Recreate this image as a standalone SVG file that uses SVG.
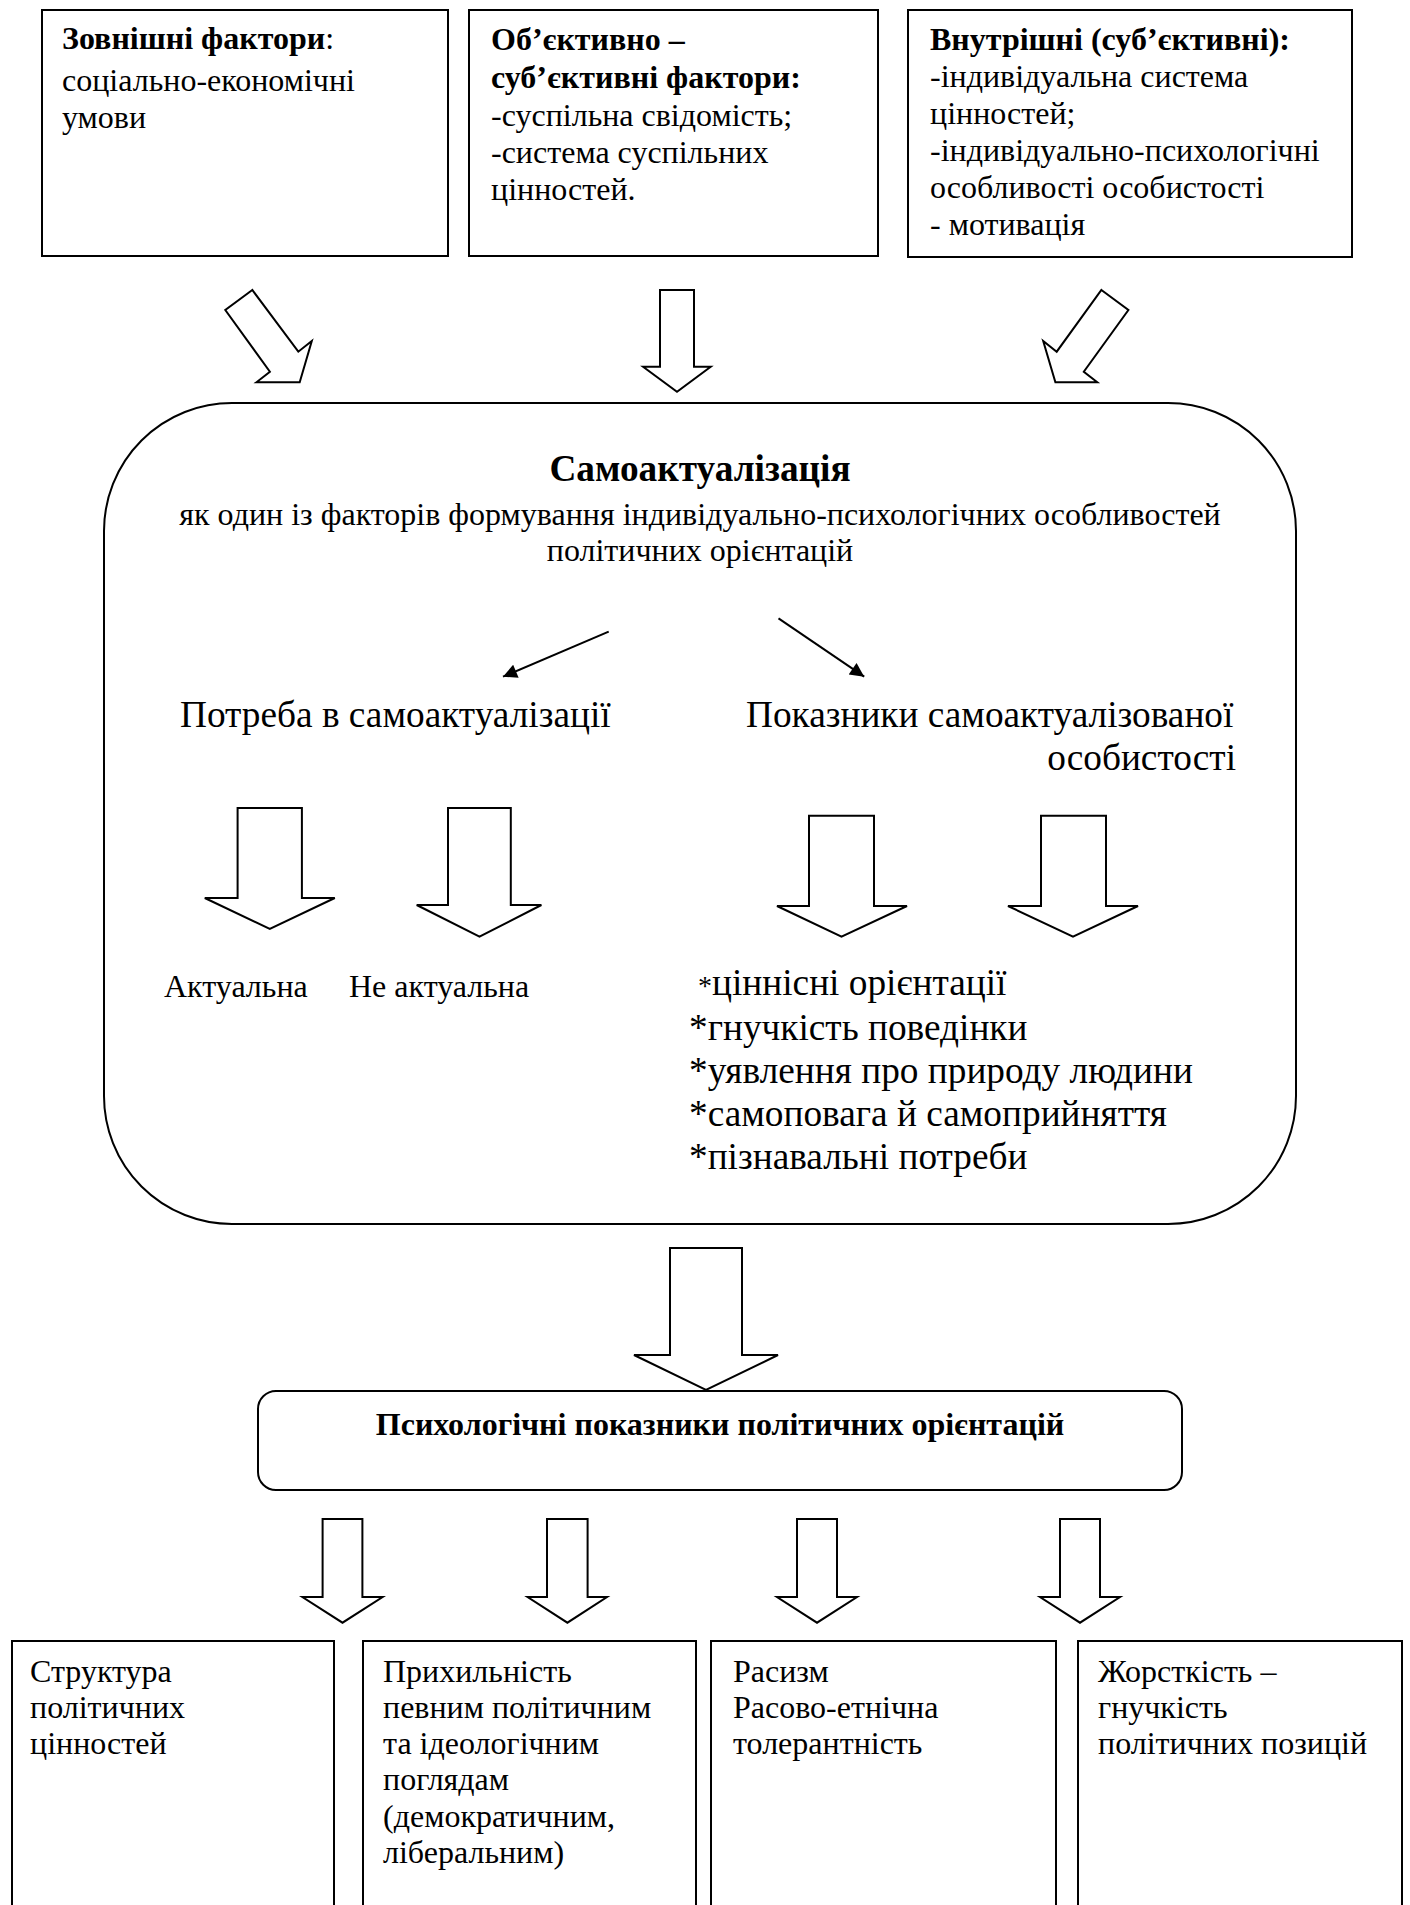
<svg xmlns="http://www.w3.org/2000/svg" width="1410" height="1905" viewBox="0 0 1410 1905">
<defs>
<style>
.bx{fill:#fff;stroke:#000;stroke-width:2}
.ha{fill:#fff;stroke:#000;stroke-width:2;stroke-linejoin:miter}
.t{font-family:"Liberation Serif","Times New Roman",serif;font-size:32px;fill:#000}
.tl{font-family:"Liberation Serif","Times New Roman",serif;font-size:37.3px;fill:#000}
.b{font-weight:bold}
.ln{stroke:#000;stroke-width:2;fill:none}
</style>
<marker id="ah" viewBox="0 0 10 10" refX="10" refY="5" markerWidth="19" markerHeight="14" markerUnits="userSpaceOnUse" orient="auto"><path d="M0,0 L10,5 L0,10 z" fill="#000"/></marker>
</defs>
<rect width="1410" height="1905" fill="#fff"/>

<g id="node-external">
<rect class="bx" x="42" y="10" width="406" height="246"/>
<text class="t" x="62" y="49"><tspan class="b">Зовнішні фактори</tspan>:</text>
<text class="t" x="62" y="91">соціально-економічні</text>
<text class="t" x="62" y="128">умови</text>
</g>

<g id="node-objective">
<rect class="bx" x="469" y="10" width="409" height="246"/>
<text class="t b" x="491" y="50">Об’єктивно –</text>
<text class="t b" x="491" y="88">суб’єктивні фактори:</text>
<text class="t" x="491" y="126">-суспільна свідомість;</text>
<text class="t" x="491" y="163">-система суспільних</text>
<text class="t" x="491" y="200">цінностей.</text>
</g>

<g id="node-internal">
<rect class="bx" x="908" y="10" width="444" height="247"/>
<text class="t b" x="930" y="50">Внутрішні (суб’єктивні):</text>
<text class="t" x="930" y="87">-індивідуальна система</text>
<text class="t" x="930" y="124">цінностей;</text>
<text class="t" x="930" y="161">-індивідуально-психологічні</text>
<text class="t" x="930" y="198">особливості особистості</text>
<text class="t" x="930" y="235">- мотивація</text>
</g>

<g id="node-selfactualization">
<rect class="bx" x="104" y="403" width="1192" height="821" rx="128" ry="128"/>
<text class="tl b" x="700" y="481" text-anchor="middle">Самоактуалізація</text>
<text class="t" x="700" y="525" text-anchor="middle">як один із факторів формування індивідуально-психологічних особливостей</text>
<text class="t" x="700" y="561" text-anchor="middle">політичних орієнтацій</text>
</g>

<g id="node-need">
<text class="tl" x="180" y="727">Потреба в самоактуалізації</text>
</g>

<g id="node-indicators">
<text class="tl" x="746" y="727">Показники самоактуалізованої</text>
<text class="tl" x="1236" y="770" text-anchor="end">особистості</text>
</g>

<g id="node-actual">
<text class="t" x="164" y="997">Актуальна</text>
</g>

<g id="node-not-actual">
<text class="t" x="349" y="997">Не актуальна</text>
</g>

<g id="node-traits">
<text class="tl" x="698" y="995"><tspan style="font-size:28px">*</tspan>ціннісні орієнтації</text>
<text class="tl" x="689" y="1040">*гнучкість поведінки</text>
<text class="tl" x="689" y="1083">*уявлення про природу людини</text>
<text class="tl" x="689" y="1126">*самоповага й самоприйняття</text>
<text class="tl" x="689" y="1169">*пізнавальні потреби</text>
</g>

<g id="node-psych">
<rect class="bx" x="258" y="1391" width="924" height="99" rx="18" ry="18"/>
<text class="t b" x="720" y="1435" text-anchor="middle">Психологічні показники політичних орієнтацій</text>
</g>

<g id="node-structure">
<rect class="bx" x="12" y="1641" width="322" height="290"/>
<text class="t" x="30" y="1682">Структура</text>
<text class="t" x="30" y="1718">політичних</text>
<text class="t" x="30" y="1754">цінностей</text>
</g>

<g id="node-adherence">
<rect class="bx" x="363" y="1641" width="333" height="290"/>
<text class="t" x="383" y="1682">Прихильність</text>
<text class="t" x="383" y="1718">певним політичним</text>
<text class="t" x="383" y="1754">та ідеологічним</text>
<text class="t" x="383" y="1790">поглядам</text>
<text class="t" x="383" y="1827">(демократичним,</text>
<text class="t" x="383" y="1863">ліберальним)</text>
</g>

<g id="node-racism">
<rect class="bx" x="711" y="1641" width="345" height="290"/>
<text class="t" x="733" y="1682">Расизм</text>
<text class="t" x="733" y="1718">Расово-етнічна</text>
<text class="t" x="733" y="1754">толерантність</text>
</g>

<g id="node-rigidity">
<rect class="bx" x="1078" y="1641" width="324" height="290"/>
<text class="t" x="1098" y="1682">Жорсткість –</text>
<text class="t" x="1098" y="1718">гнучкість</text>
<text class="t" x="1098" y="1754">політичних позицій</text>
</g>

<g id="connectors">
<polygon class="ha" points="252.3,290 225.3,310 269.9,371.7 256.4,382.3 299.7,382.3 311.8,341 298.3,351.7"/>
<polygon class="ha" points="660,290 694,290 694,366.7 710.7,366.7 677,391.7 643.1,366.7 660,366.7"/>
<polygon class="ha" points="1101.4,290 1128.4,310 1083.8,371.7 1097.3,382.3 1055.4,382.3 1043.2,341 1056.7,351.7"/>
<line class="ln" x1="608.7" y1="631.7" x2="503" y2="676.7" marker-end="url(#ah)"/>
<line class="ln" x1="778.5" y1="618.3" x2="864.2" y2="676.7" marker-end="url(#ah)"/>
<polygon class="ha" points="237.6,808 301.9,808 301.9,898 334.8,898 269.8,929 204.8,898 237.6,898"/>
<polygon class="ha" points="448,808 510.8,808 510.8,905 541.4,905 479.5,936.7 416.7,905 448,905"/>
<polygon class="ha" points="809,815.7 874,815.7 874,906 907,906 841.5,936.7 777,906 809,906"/>
<polygon class="ha" points="1041,815.7 1106,815.7 1106,906 1138,906 1073,936.7 1008,906 1041,906"/>
<polygon class="ha" points="670,1248 742,1248 742,1355 778,1355 706,1390 634,1355 670,1355"/>
<polygon class="ha" points="322.6,1519 362.4,1519 362.4,1597 382.6,1597 342.5,1622.7 302.4,1597 322.6,1597"/>
<polygon class="ha" points="547,1519 587.6,1519 587.6,1597 607,1597 567.4,1622.7 527.6,1597 547,1597"/>
<polygon class="ha" points="797,1519 837,1519 837,1597 857,1597 817,1622.7 777,1597 797,1597"/>
<polygon class="ha" points="1060,1519 1100,1519 1100,1597 1120,1597 1080,1622.7 1040,1597 1060,1597"/>
</g>
</svg>
